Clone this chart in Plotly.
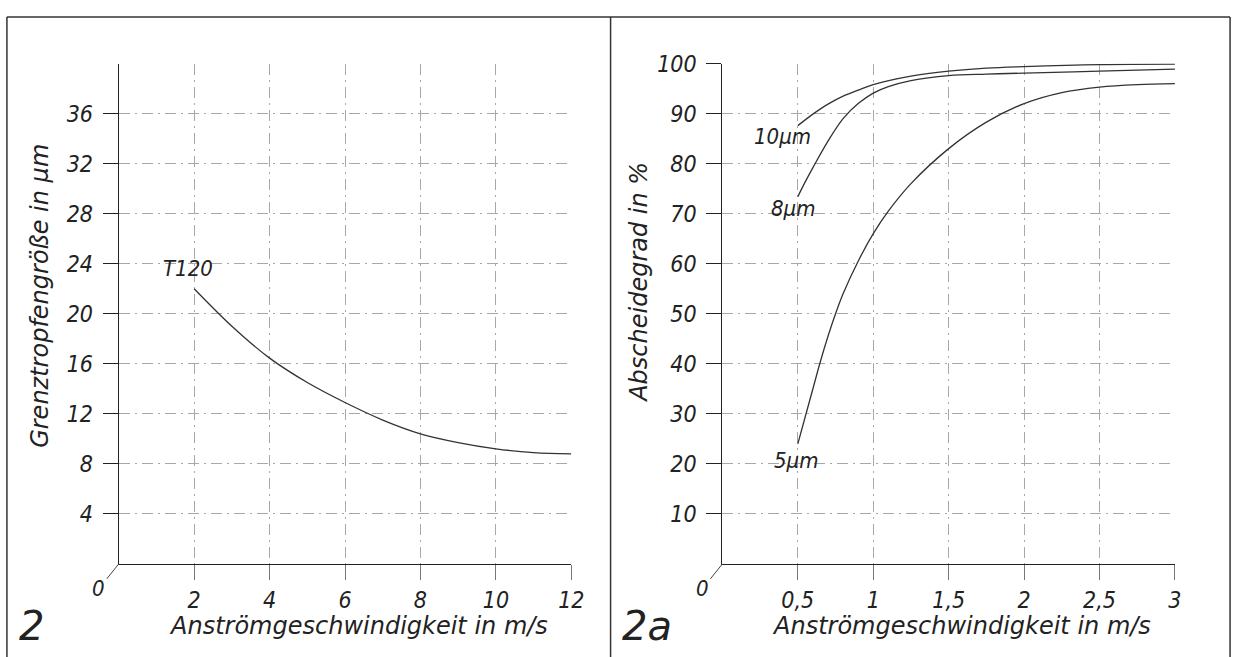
import plotly.graph_objects as go

# ---------------- data ----------------
# Chart 2 (left): Grenztropfengröße vs. Anströmgeschwindigkeit
t120_x = [2, 3, 4, 5, 6, 7, 8, 9, 10, 11, 12]
t120_y = [22.0, 19.0, 16.45, 14.5, 12.9, 11.5, 10.4, 9.7, 9.2, 8.9, 8.8]
left_xticks = [2, 4, 6, 8, 10, 12]
left_yticks = [4, 8, 12, 16, 20, 24, 28, 32, 36]

# Chart 2a (right): Abscheidegrad vs. Anströmgeschwindigkeit
d10_x = [0.5, 0.6, 0.7, 0.8, 0.9, 1.0, 1.25, 1.5, 1.75, 2.0, 2.5, 3.0]
d10_y = [87.6, 89.9, 91.9, 93.5, 94.7, 95.8, 97.5, 98.5, 99.1, 99.4, 99.8, 99.9]
d8_x = [0.5, 0.55, 0.6, 0.7, 0.8, 0.9, 1.0, 1.1, 1.25, 1.5, 1.75, 2.0, 2.5, 3.0]
d8_y = [73.4, 76.4, 79.2, 84.5, 89.0, 92.0, 94.1, 95.4, 96.6, 97.6, 97.9, 98.1, 98.5, 98.9]
d5_x = [0.5, 0.55, 0.6, 0.65, 0.7, 0.75, 0.8, 0.9, 1.0, 1.1, 1.25, 1.5, 1.75, 2.0, 2.25, 2.5, 2.75, 3.0]
d5_y = [24.0, 29.5, 35.0, 40.5, 45.5, 50.0, 54.0, 60.5, 66.0, 70.5, 76.0, 83.0, 88.3, 92.0, 94.2, 95.3, 95.8, 96.0]
right_xticks = [0.5, 1, 1.5, 2, 2.5, 3]
right_xticktext = ["0,5", "1", "1,5", "2", "2,5", "3"]
right_yticks = [10, 20, 30, 40, 50, 60, 70, 80, 90, 100]

series_labels = {"T120": "T120", "d10": "10µm", "d8": "8µm", "d5": "5µm"}

# ---------------- style ----------------
FONT_C = "DejaVu Sans Condensed, DejaVu Sans, sans-serif"
FONT_W = "DejaVu Sans, sans-serif"
TXT = "#222222"
GRID = "#a8a8a8"
DASH = "11px,5px,2px,5px"
W, H = 1249, 657

def px_x(p):
    return p / W

def px_y(p):
    return (H - p) / H

fig = go.Figure()

line_style = dict(color="#333333", width=1.3, shape="spline", smoothing=1.0)
fig.add_trace(go.Scatter(x=t120_x, y=t120_y, mode="lines", line=line_style,
                         xaxis="x", yaxis="y", hoverinfo="skip"))
for xs, ys in [(d10_x, d10_y), (d8_x, d8_y), (d5_x, d5_y)]:
    fig.add_trace(go.Scatter(x=xs, y=ys, mode="lines", line=line_style,
                             xaxis="x2", yaxis="y2", hoverinfo="skip"))

tickfont = dict(family=FONT_C, size=23, color=TXT, style="italic")

def xaxis_cfg(domain, rng, vals, text, anchor):
    return dict(domain=domain, range=rng, tickvals=vals, ticktext=text,
                showline=True, linecolor="#222222", linewidth=1.3,
                ticks="outside", ticklen=15, tickcolor="#777777", tickwidth=1,
                showgrid=True, gridcolor=GRID, griddash=DASH, gridwidth=1,
                zeroline=False, tickfont=tickfont, anchor=anchor, fixedrange=True)

def yaxis_cfg(domain, rng, vals, anchor, minor_vals=None):
    cfg = dict(domain=domain, range=rng, tickvals=vals, ticktext=[str(v) for v in vals],
               showline=True, linecolor="#222222", linewidth=1.3,
               ticks="outside", ticklen=15, tickcolor="#222222", tickwidth=1.3,
               showgrid=True, gridcolor=GRID, griddash=DASH, gridwidth=1,
               zeroline=False, tickfont=tickfont, anchor=anchor, fixedrange=True,
               ticklabelstandoff=5)
    if minor_vals:
        cfg["minor"] = dict(tickvals=minor_vals, showgrid=True, gridcolor=GRID,
                            griddash=DASH, gridwidth=1, ticks="")
    return cfg

ydom = [px_y(562), px_y(51.6)]
fig.update_layout(
    xaxis=xaxis_cfg([px_x(120), px_x(577.3)], [0, 12], left_xticks,
                    [str(v) for v in left_xticks], "y"),
    yaxis=yaxis_cfg(ydom, [0, 40], left_yticks, "x", minor_vals=[40]),
    xaxis2=xaxis_cfg([px_x(730), px_x(1187.3)], [0, 3], right_xticks,
                     right_xticktext, "y2"),
    yaxis2=yaxis_cfg(ydom, [0, 100], right_yticks, "x2"),
)

annos = []
lab_font = dict(family=FONT_C, size=22, color=TXT, style="italic")
# series labels anchored at curve starts
annos.append(dict(x=t120_x[0], y=t120_y[0], xref="x", yref="y", text=series_labels["T120"],
                  showarrow=False, xshift=-6, yshift=20, font=lab_font))
annos.append(dict(x=d10_x[0], y=d10_y[0], xref="x2", yref="y2", text=series_labels["d10"],
                  showarrow=False, xshift=-15, yshift=-11, font=lab_font))
annos.append(dict(x=d8_x[0], y=d8_y[0], xref="x2", yref="y2", text=series_labels["d8"],
                  showarrow=False, xshift=-5, yshift=-12, font=lab_font))
annos.append(dict(x=d5_x[0], y=d5_y[0], xref="x2", yref="y2", text=series_labels["d5"],
                  showarrow=False, xshift=-2, yshift=-17, font=lab_font))
# origin "0" with diagonal leader
for xr, yr in [("x", "y"), ("x2", "y2")]:
    annos.append(dict(x=0, y=0, xref=xr, yref=yr, text="0", showarrow=True,
                      arrowhead=0, arrowwidth=1, arrowcolor="#444444",
                      ax=-20, ay=25, font=lab_font))
# axis titles
title_font = dict(family=FONT_W, size=24, color=TXT, style="italic")
def paper_text(x, y, text, font, angle=0):
    return dict(x=px_x(x), y=px_y(y), xref="paper", yref="paper", text=text,
                showarrow=False, font=font, xanchor="center", yanchor="middle",
                textangle=angle)

annos.append(paper_text(362, 625, "Anströmgeschwindigkeit in m/s", title_font))
annos.append(paper_text(972, 625, "Anströmgeschwindigkeit in m/s", title_font))
annos.append(paper_text(41, 289, "Grenztropfengröße in µm", title_font, -90))
annos.append(paper_text(645, 275, "Abscheidegrad in %", title_font, -90))
# panel numbers
big_font = dict(family=FONT_W, size=40, color=TXT, style="italic")
annos.append(paper_text(32, 625, "2", big_font))
annos.append(paper_text(654, 625, "2a", big_font))

# frame
frame = dict(color="#333333", width=1.5)
shapes = [
    dict(type="line", xref="paper", yref="paper", x0=px_x(7), x1=px_x(1243), y0=px_y(4), y1=px_y(4), line=frame),
    dict(type="line", xref="paper", yref="paper", x0=px_x(7), x1=px_x(7), y0=px_y(4), y1=0, line=frame),
    dict(type="line", xref="paper", yref="paper", x0=px_x(1243), x1=px_x(1243), y0=px_y(4), y1=0, line=frame),
    dict(type="line", xref="paper", yref="paper", x0=px_x(617), x1=px_x(617), y0=px_y(4), y1=0, line=frame),
]

fig.update_layout(width=W, height=H, margin=dict(l=0, r=0, t=0, b=0),
                  paper_bgcolor="white", plot_bgcolor="white", showlegend=False,
                  hovermode=False, annotations=annos, shapes=shapes)

# pin the figure to the top-left corner of the window
page_fix = (
    "var de=document.documentElement, b=document.body;"
    "de.style.margin='0';de.style.padding='0';de.style.overflow='hidden';"
    "b.style.margin='0';b.style.padding='0';b.style.overflow='hidden';"
    "var gd=document.getElementById('{plot_id}');"
    "gd.style.position='fixed';gd.style.left='0px';gd.style.top='0px';"
    "gd.style.margin='0';gd.style.zIndex='10';"
)
fig.write_html("out.html", config={"displayModeBar": False}, post_script=page_fix)
